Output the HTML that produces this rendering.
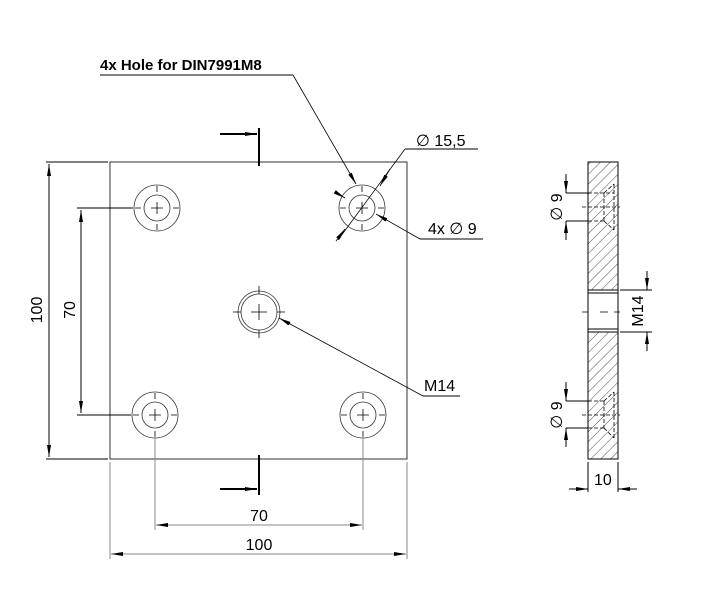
<!DOCTYPE html>
<html><head><style>body{margin:0;background:#fff}svg{display:block}text{font-family:"Liberation Sans","DejaVu Sans",sans-serif;fill:#000}</style></head><body>
<svg width="705" height="603" viewBox="0 0 705 603" xmlns="http://www.w3.org/2000/svg">
<defs>
<marker id="a" markerWidth="12" markerHeight="6" refX="12" refY="3" orient="auto-start-reverse" markerUnits="userSpaceOnUse"><path d="M0,1 L12,3 L0,5z" fill="#000"/></marker>
<pattern id="h" width="7" height="7" patternUnits="userSpaceOnUse" patternTransform="rotate(45)"><line x1="0" y1="0" x2="0" y2="7" stroke="#222" stroke-width="0.8"/></pattern>
</defs>
<g fill="none" stroke="#000" stroke-width="1">
<rect x="110" y="162" width="297" height="297" stroke="#333"/>
<g stroke="#333" stroke-width="0.8">
<circle cx="157" cy="208" r="23"/><circle cx="157" cy="208" r="13"/>
<circle cx="362" cy="208" r="23"/><circle cx="362" cy="208" r="13"/>
<circle cx="155" cy="415" r="23"/><circle cx="155" cy="415" r="13"/>
<circle cx="363" cy="415" r="23"/><circle cx="363" cy="415" r="13"/>
<circle cx="259" cy="312" r="21"/><circle cx="259" cy="312" r="18"/>
</g>
<g stroke="#000" stroke-width="0.8">
<path d="M151,208h12M157,202v12M135,208h6M173,208h6M157,186v6M157,224v6"/>
<path d="M356,208h12M362,202v12M340,208h6M378,208h6M362,186v6M362,224v6"/>
<path d="M149,415h12M155,409v12M133,415h6M171,415h6M155,393v6M155,431v6"/>
<path d="M357,415h12M363,409v12M341,415h6M379,415h6M363,393v6M363,431v6"/>
<path d="M251,312h16M259,304v16M233,312h8M277,312h8M259,286v8M259,330v8"/>
</g>
<path d="M259,128v38M259,455v40" stroke-width="2"/>
<line x1="220" y1="134" x2="257" y2="134" stroke-width="2" marker-end="url(#a)"/>
<line x1="220" y1="489" x2="257" y2="489" stroke-width="2" marker-end="url(#a)"/>
<path d="M46,162h62M46,459h62M77,208h56M77,415h54"/>
<line x1="49" y1="164" x2="49" y2="457" marker-start="url(#a)" marker-end="url(#a)"/>
<line x1="81" y1="210" x2="81" y2="413" marker-start="url(#a)" marker-end="url(#a)"/>
<g stroke="#888"><path d="M155,438v92M363,438v92M110,462v97M407,462v97"/>
<line x1="156" y1="525" x2="362" y2="525" marker-start="url(#a)" marker-end="url(#a)"/>
<line x1="111" y1="554" x2="406" y2="554" marker-start="url(#a)" marker-end="url(#a)"/></g>
<path d="M100,75H293" stroke="#000"/>
<line x1="293" y1="75" x2="356" y2="184" marker-end="url(#a)" stroke-width="0.8"/>
<path d="M405,149H478"/>
<line x1="405" y1="149" x2="338" y2="240" stroke-width="0.8"/>
<line x1="390" y1="169" x2="380" y2="186" marker-end="url(#a)" stroke-width="0.8"/>
<line x1="336" y1="241" x2="345" y2="229" marker-end="url(#a)" stroke-width="0.8"/>
<line x1="335" y1="192" x2="345" y2="198" marker-end="url(#a)" stroke-width="0.8"/>
<path d="M420,239H483"/>
<line x1="420" y1="239" x2="376" y2="214" marker-end="url(#a)" stroke-width="0.8"/>
<path d="M423,396H460"/>
<line x1="423" y1="396" x2="279" y2="318" marker-end="url(#a)" stroke-width="0.8"/>
<rect x="588" y="162" width="30" height="128" fill="url(#h)" stroke="none"/>
<rect x="588" y="332" width="30" height="127" fill="url(#h)" stroke="none"/>
<rect x="588" y="162" width="30" height="297"/>
<path d="M588,290h30M588,293h30M588,332h30M588,329h30"/>
<path d="M582,312h6M600,312h8M614,312h6" stroke-width="0.8"/>
<g stroke-dasharray="4,2" stroke-width="0.8">
<path d="M588,193h26M588,221h17M604,193v28M614,184v46M604,221l10,9M604,193l10,-9"/>
<path d="M588,401h17M588,428h17M604,401v27M614,392v46M604,401l10,-9M604,428l10,10"/>
<path d="M582,207h38M582,415h38"/>
</g>
<path d="M566,193h22M566,221h22M566,401h22M566,428h22M620,290h32M620,332h32M588,462v30M618,462v30"/>
<line x1="566" y1="174" x2="566" y2="193" marker-end="url(#a)"/>
<line x1="566" y1="240" x2="566" y2="221" marker-end="url(#a)"/>
<line x1="566" y1="382" x2="566" y2="401" marker-end="url(#a)"/>
<line x1="566" y1="447" x2="566" y2="428" marker-end="url(#a)"/>
<line x1="647" y1="271" x2="647" y2="290" marker-end="url(#a)"/>
<line x1="647" y1="351" x2="647" y2="332" marker-end="url(#a)"/>
<line x1="569" y1="489" x2="588" y2="489" marker-end="url(#a)"/>
<line x1="637" y1="489" x2="618" y2="489" marker-end="url(#a)"/>
</g>
<text x="100" y="70" font-size="15" font-weight="bold">4x Hole for DIN7991M8</text>
<text x="416" y="146" font-size="16">∅ 15,5</text>
<text x="428" y="234" font-size="16">4x ∅ 9</text>
<text x="424" y="391" font-size="16">M14</text>
<text x="259" y="521" font-size="16" text-anchor="middle">70</text>
<text x="259" y="550" font-size="16" text-anchor="middle">100</text>
<text x="594" y="485" font-size="16">10</text>
<text transform="translate(42,310) rotate(-90)" font-size="16" text-anchor="middle">100</text>
<text transform="translate(75,310) rotate(-90)" font-size="16" text-anchor="middle">70</text>
<text transform="translate(562,207) rotate(-90)" font-size="16" text-anchor="middle">∅ 9</text>
<text transform="translate(562,415) rotate(-90)" font-size="16" text-anchor="middle">∅ 9</text>
<text transform="translate(643,311) rotate(-90)" font-size="16" text-anchor="middle">M14</text>
</svg>
</body></html>
